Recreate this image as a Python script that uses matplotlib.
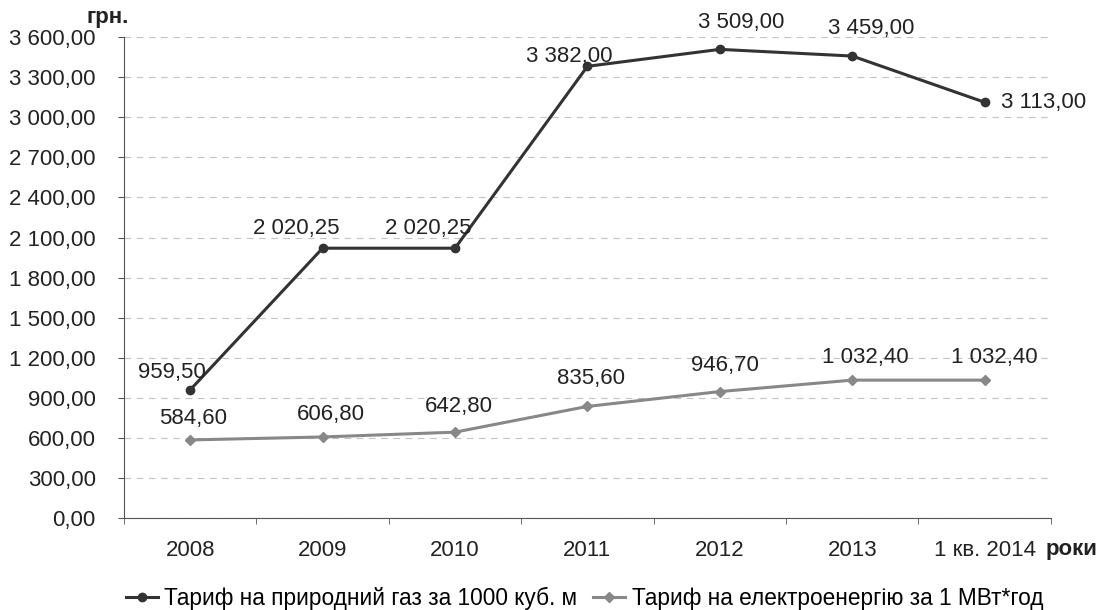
import matplotlib
matplotlib.use('Agg')
import matplotlib.pyplot as plt
from matplotlib.ticker import FuncFormatter

plt.rcParams['font.family'] = ['Liberation Sans', 'DejaVu Sans']

years = ['2008', '2009', '2010', '2011', '2012', '2013', '1 кв. 2014']
gas = [959.50, 2020.25, 2020.25, 3382.00, 3509.00, 3459.00, 3113.00]
elec = [584.60, 606.80, 642.80, 835.60, 946.70, 1032.40, 1032.40]
gas_name = 'Тариф на природний газ за 1000 куб. м'
elec_name = 'Тариф на електроенергію за 1 МВт*год'


def fmt(v, pos=None):
    s = '{:,.2f}'.format(v)
    return s.replace(',', ' ').replace('.', ',')


fs = 16
fig = plt.figure(figsize=(11.05, 6.10), dpi=100)
ax = fig.add_axes([0.1122, 0.1508, 0.8388, 0.7882])

x = list(range(len(years)))
ax.plot(x, gas, color='#333333', lw=2.2, marker='o', ms=6, label=gas_name, zorder=3)
ax.plot(x, elec, color='#888888', lw=2.2, marker='D', ms=5, label=elec_name, zorder=3)

ax.set_xlim(-0.5, 6.5)
ax.set_ylim(0, 3600)
ax.set_yticks(range(0, 3601, 300))
ax.yaxis.set_major_formatter(FuncFormatter(fmt))
ax.set_xticks(x)
ax.set_xticklabels(years)
ax.set_xticks([i - 0.5 for i in range(len(years) + 1)], minor=True)
ax.tick_params(axis='x', which='major', length=0, pad=16, labelsize=fs, colors='#222222')
ax.tick_params(axis='x', which='minor', length=4.3, color='#555555')
ax.tick_params(axis='y', length=4.3, color='#555555', labelsize=fs, labelcolor='#222222', pad=16)
ax.grid(axis='y', ls=(0, (6, 5)), color='#c4c4c4', lw=0.8)
ax.set_axisbelow(True)
for s in ['top', 'right']:
    ax.spines[s].set_visible(False)
for s in ['left', 'bottom']:
    ax.spines[s].set_color('#555555')

# data labels (offsets in pixels)
gas_off = [(-18, 17), (-26, 20), (-27, 20), (-18, 10), (21, 27), (19, 28), (16, 0)]
elec_off = [(3, 21), (8, 22), (4, 26), (4, 28), (5, 26), (13, 23), (10, 23)]
for i, v in enumerate(gas):
    dx, dy = gas_off[i]
    ha = 'left' if i == 6 else 'center'
    ax.annotate(fmt(v), (i, v), xytext=(dx, dy), textcoords='offset pixels',
                ha=ha, va='center', fontsize=fs, color='#222222')
for i, v in enumerate(elec):
    dx, dy = elec_off[i]
    ax.annotate(fmt(v), (i, v), xytext=(dx, dy), textcoords='offset pixels',
                ha='center', va='center', fontsize=fs, color='#222222')

fig.text(108 / 1105, 1 - 17 / 610, 'грн.', fontsize=fs, fontweight='bold', color='#222222', ha='center', va='center')
fig.text(1072 / 1105, 1 - 550 / 610, 'роки', fontsize=fs, fontweight='bold', color='#222222', ha='center', va='center')

fig.legend(loc='center', bbox_to_anchor=(0.529, 1 - 598 / 610), ncol=2, frameon=False,
           fontsize=16.3, handlelength=1.4, handletextpad=0.3, columnspacing=0.7)

fig.savefig('out.png', dpi=100)
